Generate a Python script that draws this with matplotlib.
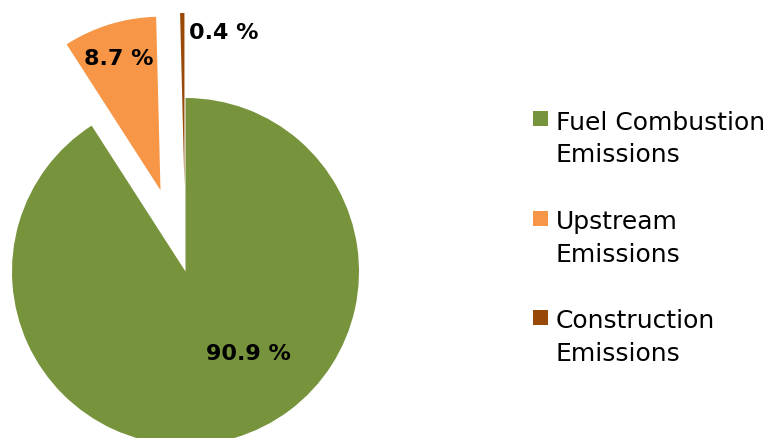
import matplotlib.pyplot as plt
from matplotlib.patches import Rectangle

# -------- Data --------
categories = ["Fuel Combustion\nEmissions", "Upstream\nEmissions", "Construction\nEmissions"]
shares = [90.9, 8.7, 0.4]
colors = ["#77933C", "#F79646", "#984807"]
explode = [0, 0.49, 0.49]

# label positions in radius units, relative to the pie centre
label_pos = [(0.362, -0.467), (-0.386, 1.233), (0.222, 1.380)]

# -------- Plot --------
W, H = 781, 439
fig = plt.figure(figsize=(W / 100, H / 100), dpi=100)
ax = fig.add_axes([0, 0, 1, 1])

wedges, _ = ax.pie(shares, colors=colors, explode=explode, startangle=90,
                   counterclock=False, radius=1.0, wedgeprops=dict(linewidth=0))

for val, (lx, ly) in zip(shares, label_pos):
    ax.text(lx, ly, f"{val} %", ha="center", va="center",
            fontsize=16, fontweight="bold", color="black")

# pie centre at (185.5, 272.5) px, radius 173.5 px
cx, cy, r = 185.5, 272.5, 173.5
ax.set_xlim(-cx / r, (W - cx) / r)
ax.set_ylim((cy - H) / r, cy / r)
ax.set_aspect("auto")
ax.axis("off")

# Legend (drawn by hand so the swatch sits beside the first line)
leg_y = [119.5, 219.5, 318.5]  # swatch centres, px from top
for label, color, y in zip(categories, colors, leg_y):
    fig.patches.append(Rectangle((533 / W, 1 - (y + 7.5) / H), 15 / W, 15 / H,
                                 transform=fig.transFigure, facecolor=color,
                                 edgecolor="none"))
    for k, line in enumerate(label.split("\n")):
        base = y + 10 + 32.5 * k
        fig.text(556 / W, 1 - base / H, line, ha="left", va="baseline",
                 fontsize=18, color="black")

fig.savefig("out.png", dpi=100)
